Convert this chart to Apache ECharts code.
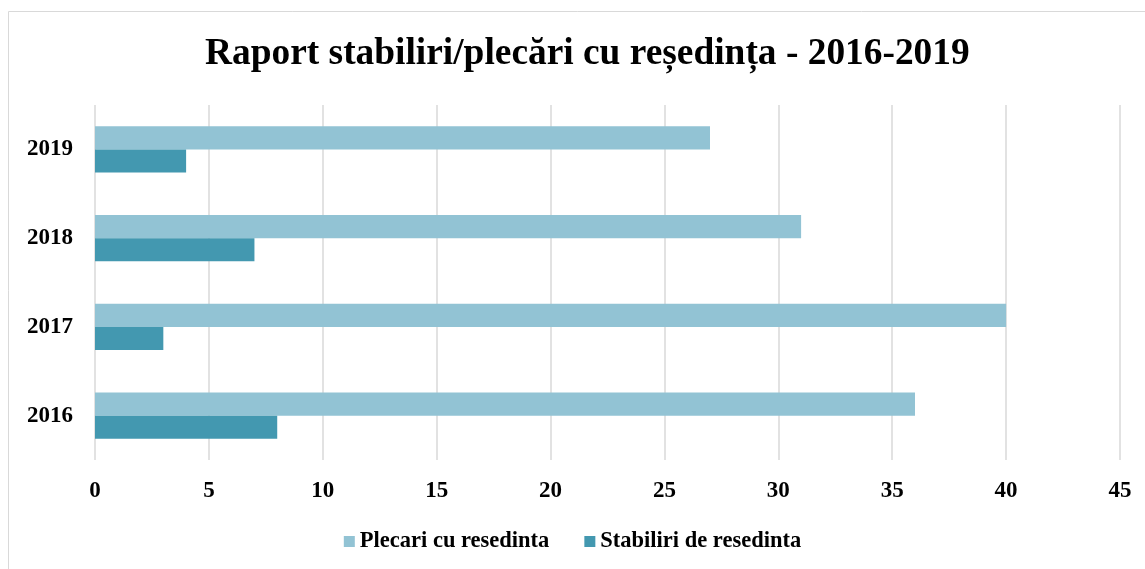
<!DOCTYPE html>
<html>
<head>
<meta charset="utf-8">
<script src="https://cdn.jsdelivr.net/npm/echarts@6/dist/echarts.min.js"></script>
<style>
  html, body { margin: 0; padding: 0; background: #fff; }
  #main { width: 1145px; height: 569px; }
</style>
</head>
<body>
<div id="main"></div>
<script>
// date
var years = ['2016', '2017', '2018', '2019']
var plecari = [36, 40, 31, 27]
var stabiliri = [8, 3, 7, 4]
var xTicks = [0, 5, 10, 15, 20, 25, 30, 35, 40, 45]

var font = '"Liberation Serif", "Times New Roman", serif'
var chart = echarts.init(document.getElementById('main'), null, { renderer: 'canvas' })

chart.setOption({
  animation: false,
  textStyle: { fontFamily: font },
  title: {
    text: 'Raport stabiliri/plecări cu reședința - 2016-2019',
    left: 200,
    top: 31,
    textStyle: { fontFamily: font, fontSize: 37.4, fontWeight: 'bold', color: '#000' }
  },
  graphic: [{
    type: 'rect',
    shape: { x: 8.5, y: 11.5, width: 1140, height: 560 },
    style: { fill: 'none', stroke: '#d9d9d9', lineWidth: 1 },
    silent: true
  }],
  legend: {
    bottom: 11,
    left: 'center',
    itemWidth: 11,
    itemHeight: 11,
    itemGap: 35,
    icon: 'rect',
    textStyle: { fontFamily: font, fontSize: 22.5, fontWeight: 'bold', color: '#000' },
    data: ['Plecari cu resedinta', 'Stabiliri de resedinta']
  },
  grid: { left: 95, right: 25, top: 105, bottom: 109 },
  xAxis: {
    type: 'value',
    min: xTicks[0],
    max: xTicks[xTicks.length - 1],
    interval: 5,
    axisLine: { show: false },
    axisTick: { show: false },
    splitLine: { lineStyle: { color: '#d9d9d9', width: 1.5 } },
    axisLabel: { fontFamily: font, fontSize: 23, fontWeight: 'bold', color: '#000', margin: 20 }
  },
  yAxis: {
    type: 'category',
    data: years,
    axisLine: { show: false },
    axisTick: { show: false },
    axisLabel: { fontFamily: font, fontSize: 23, fontWeight: 'bold', color: '#000', margin: 22 }
  },
  series: [
    {
      name: 'Plecari cu resedinta',
      type: 'bar',
      data: plecari,
      itemStyle: { color: '#92c3d4' },
      barGap: '0%',
      barCategoryGap: '48%'
    },
    {
      name: 'Stabiliri de resedinta',
      type: 'bar',
      data: stabiliri,
      itemStyle: { color: '#4398b0' }
    }
  ]
})
</script>
</body>
</html>
